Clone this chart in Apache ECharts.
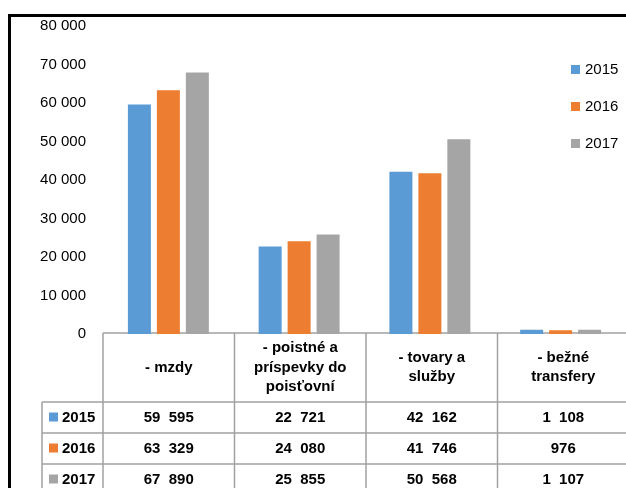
<!DOCTYPE html>
<html><head><meta charset="utf-8">
<script src="https://cdn.jsdelivr.net/npm/echarts@6/dist/echarts.min.js"></script>
<style>html,body{margin:0;padding:0;background:#fff}#c{width:626px;height:488px}</style>
</head><body><div id="c"></div>
<script>
var categories = ['- mzdy', '- poistné a\npríspevky do\npoisťovní', '- tovary a\nslužby', '- bežné\ntransfery'];
var years = ['2015', '2016', '2017'];
var v2015 = [59595, 22721, 42162, 1108];
var v2016 = [63329, 24080, 41746, 976];
var v2017 = [67890, 25855, 50568, 1107];
var yTicks = [0, 10000, 20000, 30000, 40000, 50000, 60000, 70000, 80000];
var colors = ['#5B9BD5', '#ED7D31', '#A5A5A5'];
var seriesValues = [v2015, v2016, v2017];

var FONT = 'Liberation Sans, Arial, sans-serif';
var gridLeft = 103, gridTop = 26, gridBottomY = 334, gridWidth = 526;
var colW = gridWidth / categories.length;
var tableTop = 333, headerBottom = 402, rowH = 31, labelColX = 42;
var lineColor = '#a0a0a0';

function fmt(n) {
  if (n >= 1000) return Math.floor(n / 1000) + '  ' + String(n % 1000).padStart(3, '0');
  return String(n);
}
function fmtAxis(n) {
  if (n >= 1000) return Math.floor(n / 1000) + ' ' + String(n % 1000).padStart(3, '0');
  return String(n);
}

var g = [];
// frame
g.push({type: 'line', shape: {x1: 8, y1: 15.5, x2: 626, y2: 15.5}, style: {stroke: '#000', lineWidth: 3}, z: 10});
g.push({type: 'line', shape: {x1: 9.5, y1: 14, x2: 9.5, y2: 488}, style: {stroke: '#000', lineWidth: 3}, z: 10});
// table lines
g.push({type: 'line', shape: {x1: gridLeft, y1: tableTop, x2: 626, y2: tableTop}, style: {stroke: lineColor, lineWidth: 1.5}});
for (var r = 0; r < 3; r++) {
  var y = headerBottom + r * rowH;
  g.push({type: 'line', shape: {x1: labelColX, y1: y, x2: 626, y2: y}, style: {stroke: lineColor, lineWidth: 1.5}});
}
g.push({type: 'line', shape: {x1: labelColX, y1: headerBottom, x2: labelColX, y2: 488}, style: {stroke: lineColor, lineWidth: 1.5}});
for (var c = 0; c < categories.length; c++) {
  var x = gridLeft + c * colW;
  g.push({type: 'line', shape: {x1: x, y1: tableTop, x2: x, y2: 488}, style: {stroke: lineColor, lineWidth: 1.5}});
  g.push({type: 'text', x: x + colW / 2, y: (tableTop + headerBottom) / 2,
    style: {text: categories[c], font: 'bold 15px ' + FONT, fill: '#000', align: 'center', verticalAlign: 'middle', lineHeight: 19.5}});
  for (var r2 = 0; r2 < 3; r2++) {
    g.push({type: 'text', x: x + colW / 2, y: headerBottom + r2 * rowH + rowH / 2,
      style: {text: fmt(seriesValues[r2][c]), font: 'bold 15px ' + FONT, fill: '#000', align: 'center', verticalAlign: 'middle'}});
  }
}
for (var r3 = 0; r3 < 3; r3++) {
  var cy = headerBottom + r3 * rowH + rowH / 2;
  g.push({type: 'rect', shape: {x: 49, y: cy - 5, width: 9, height: 9}, style: {fill: colors[r3]}});
  g.push({type: 'text', x: 62, y: cy, style: {text: years[r3], font: 'bold 15px ' + FONT, fill: '#000', align: 'left', verticalAlign: 'middle'}});
}

var chart = echarts.init(document.getElementById('c'), null, {renderer: 'canvas'});
chart.setOption({
  animation: false,
  color: colors,
  textStyle: {fontFamily: FONT},
  grid: {left: gridLeft, top: gridTop, width: gridWidth, height: gridBottomY - gridTop, containLabel: false},
  legend: {
    orient: 'vertical', left: 566, top: 57, itemWidth: 9, itemHeight: 9, itemGap: 22, icon: 'rect',
    textStyle: {fontSize: 15, color: '#000', fontFamily: FONT},
    data: years
  },
  xAxis: {
    type: 'category', data: categories,
    axisLine: {show: false}, axisTick: {show: false}, axisLabel: {show: false}
  },
  yAxis: {
    type: 'value', min: 0, max: 80000, interval: 10000,
    axisLine: {show: false}, axisTick: {show: false}, splitLine: {show: false},
    axisLabel: {fontSize: 15, color: '#000', margin: 17, formatter: function (v) { return fmtAxis(v); }}
  },
  series: years.map(function (yr, i) {
    return {name: yr, type: 'bar', data: seriesValues[i], barWidth: 23, barGap: '26%'};
  }),
  graphic: g
});
</script></body></html>
